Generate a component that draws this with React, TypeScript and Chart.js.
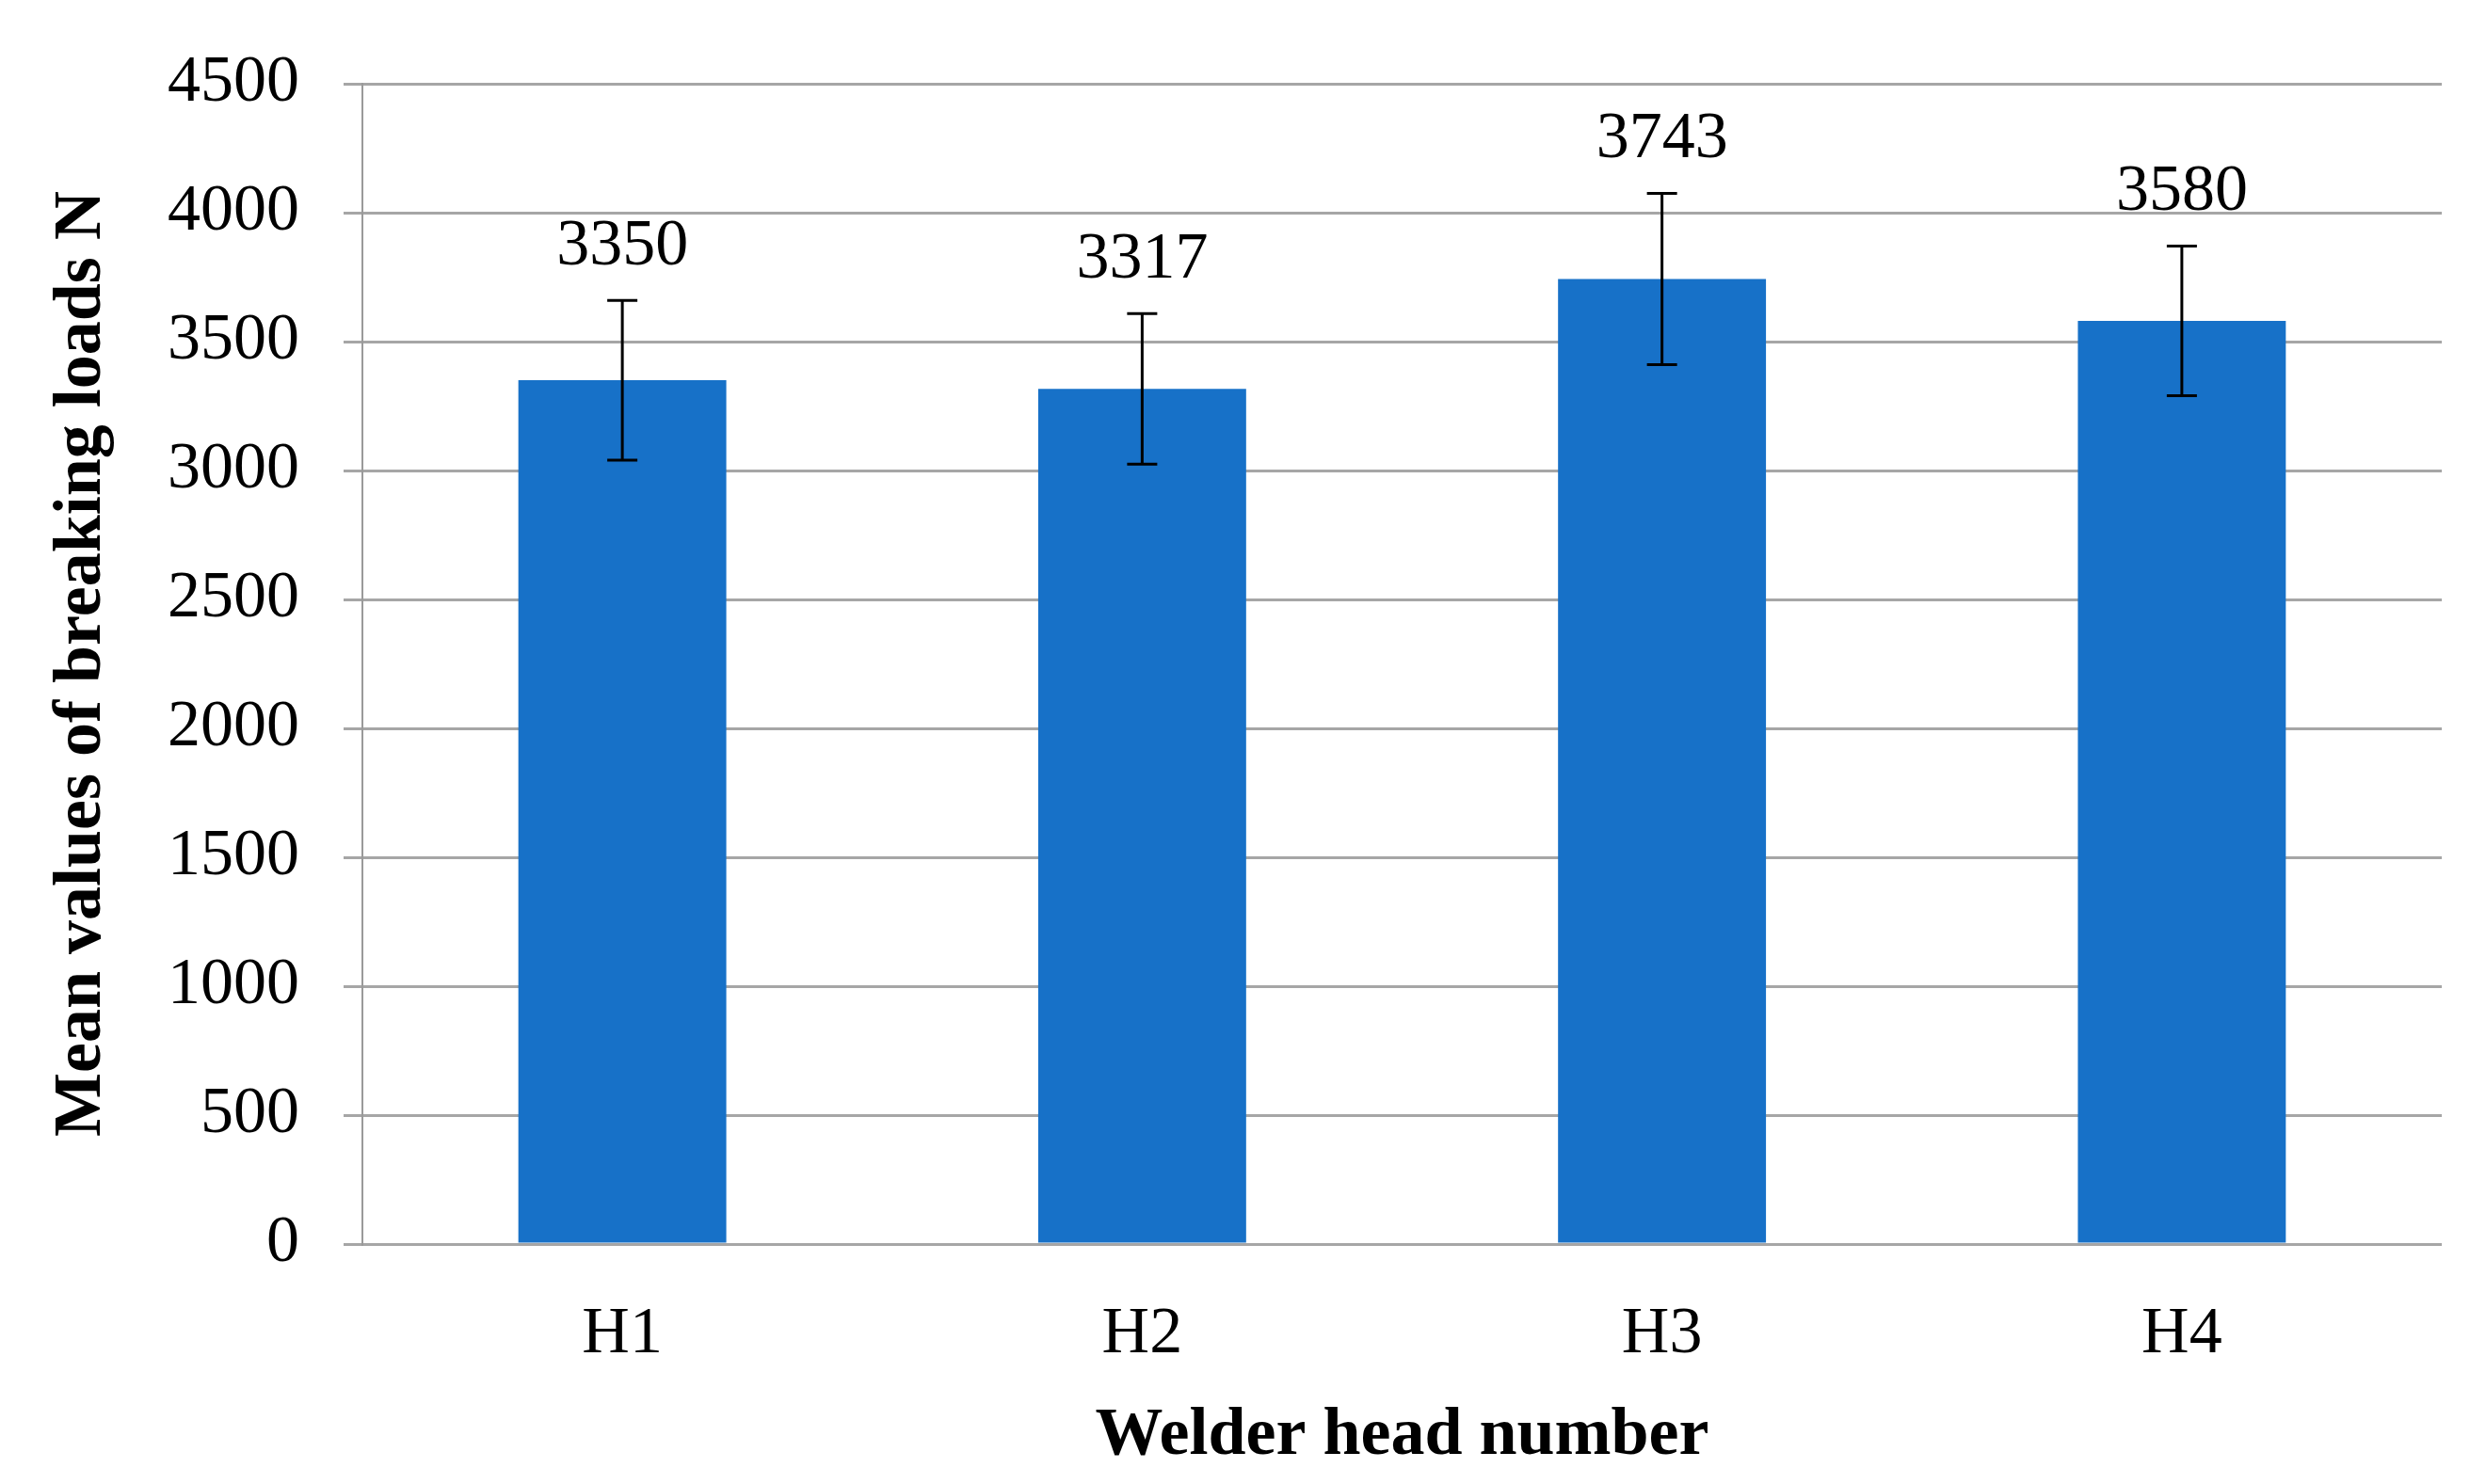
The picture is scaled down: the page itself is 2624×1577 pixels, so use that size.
import React, { useEffect, useRef } from "react";
import { Chart, registerables } from "chart.js";

Chart.register(...registerables);

const categories = ["H1", "H2", "H3", "H4"];
const meanValues = [3350, 3317, 3743, 3580];
const errorValues = [310, 292, 332, 290];
const valueLabels = ["3350", "3317", "3743", "3580"];
const yTickValues = [0, 500, 1000, 1500, 2000, 2500, 3000, 3500, 4000, 4500];

const FONT = "'Liberation Serif', 'Times New Roman', serif";

const errorBarPlugin = {
  id: "errorBarsAndLabels",
  afterDatasetsDraw(chart: any) {
    const ctx = chart.ctx;
    const meta = chart.getDatasetMeta(0);
    const y = chart.scales.y;
    ctx.save();
    meta.data.forEach((bar: any, i: number) => {
      const x = bar.x;
      const top = y.getPixelForValue(meanValues[i] + errorValues[i]);
      const bot = y.getPixelForValue(meanValues[i] - errorValues[i]);
      ctx.strokeStyle = "#000000";
      ctx.lineWidth = 3;
      ctx.beginPath();
      ctx.moveTo(x, top);
      ctx.lineTo(x, bot);
      ctx.moveTo(x - 16, top);
      ctx.lineTo(x + 16, top);
      ctx.moveTo(x - 16, bot);
      ctx.lineTo(x + 16, bot);
      ctx.stroke();
      ctx.fillStyle = "#000000";
      ctx.font = `70px ${FONT}`;
      ctx.textAlign = "center";
      ctx.textBaseline = "middle";
      ctx.fillText(valueLabels[i], x, top - 57);
    });
    ctx.restore();
  },
};

export default function App() {
  const canvasRef = useRef<HTMLCanvasElement | null>(null);

  useEffect(() => {
    if (!canvasRef.current) return;
    const chart = new Chart(canvasRef.current, {
      type: "bar",
      data: {
        labels: categories,
        datasets: [
          {
            data: meanValues,
            backgroundColor: "#1771C8",
            borderWidth: 0,
            barPercentage: 0.4,
            categoryPercentage: 1,
          },
        ],
      },
      options: {
        animation: false,
        responsive: true,
        maintainAspectRatio: false,
        layout: { padding: { left: 0, right: 30, top: 47, bottom: 0 } },
        plugins: {
          legend: { display: false },
          tooltip: { enabled: false },
        },
        scales: {
          x: {
            grid: { display: false, drawTicks: false },
            border: { display: false },
            ticks: {
              color: "#000000",
              font: { family: FONT, size: 70 },
              padding: 55,
            },
            title: {
              display: true,
              text: "Welder head number",
              color: "#000000",
              font: { family: FONT, size: 72, weight: "bold" },
              padding: { top: 0, bottom: 7 },
            },
            afterFit(scale: any) {
              scale.height = 255;
            },
          },
          y: {
            min: 0,
            max: 4500,
            afterBuildTicks(scale: any) {
              scale.ticks = yTickValues.map((v) => ({ value: v }));
            },
            grid: {
              color: "#A6A6A6",
              lineWidth: 3,
              tickLength: 20,
              drawTicks: true,
            },
            border: { display: true, color: "#9A9A9A", width: 2 },
            ticks: {
              color: "#000000",
              font: { family: FONT, size: 70 },
              padding: 47,
              callback: (v: any) => String(v),
            },
            title: {
              display: true,
              text: "Mean values of breaking loads N",
              color: "#000000",
              font: { family: FONT, size: 72, weight: "bold" },
              padding: { top: 44, bottom: 0 },
            },
            afterFit(scale: any) {
              scale.width = 385;
            },
          },
        },
      },
      plugins: [errorBarPlugin],
    });
    return () => chart.destroy();
  }, []);

  return (
    <div
      style={{
        position: "fixed",
        left: 0,
        top: 0,
        width: "2624px",
        height: "1577px",
        background: "#ffffff",
      }}
    >
      <canvas ref={canvasRef} />
    </div>
  );
}
